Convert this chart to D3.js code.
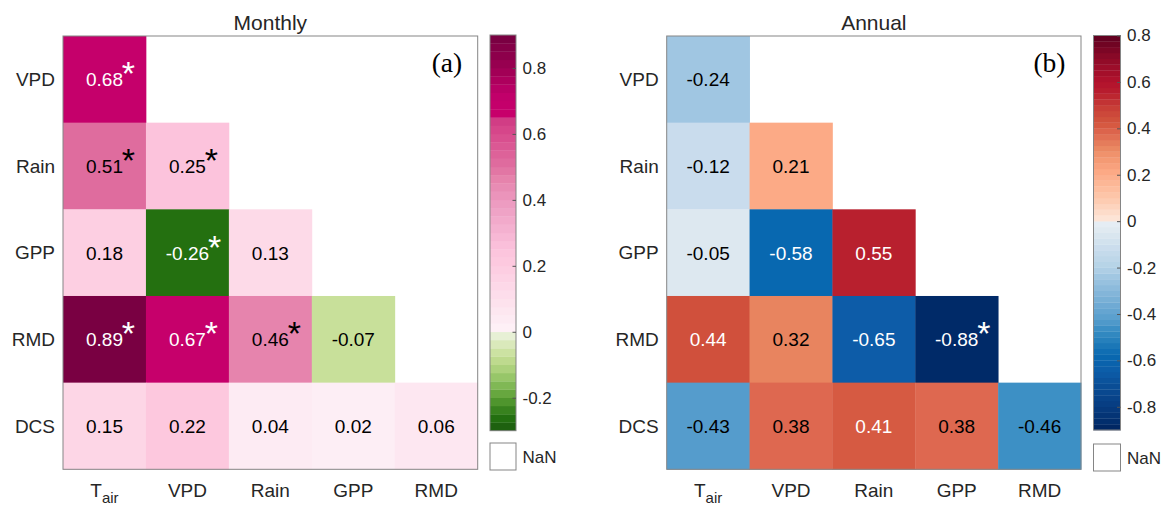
<!DOCTYPE html>
<html>
<head>
<meta charset="utf-8">
<script src="https://cdn.jsdelivr.net/npm/d3@7"></script>
<style>
  body { margin: 0; background: #fff; }
  svg { display: block; font-family: "Liberation Sans", Arial, sans-serif; }
</style>
</head>
<body>
<svg id="chart" width="1167" height="506"></svg>
<script>
// Variables on each axis (lower-triangular correlation matrices)
const rowNames = ["VPD", "Rain", "GPP", "RMD", "DCS"];
const colNames = ["Tair", "VPD", "Rain", "GPP", "RMD"];
const colMain  = ["T", "VPD", "Rain", "GPP", "RMD"];
const colSub   = ["air", "", "", "", ""];

// Monthly correlation coefficients (row i holds i+1 values)
const monthlyValues = [
  [0.68],
  [0.51, 0.25],
  [0.18, -0.26, 0.13],
  [0.89, 0.67, 0.46, -0.07],
  [0.15, 0.22, 0.04, 0.02, 0.06]
];
const monthlySignificant = [
  [1],
  [1, 1],
  [0, 1, 0],
  [1, 1, 1, 0],
  [0, 0, 0, 0, 0]
];

// Annual correlation coefficients
const annualValues = [
  [-0.24],
  [-0.12, 0.21],
  [-0.05, -0.58, 0.55],
  [0.44, 0.32, -0.65, -0.88],
  [-0.43, 0.38, 0.41, 0.38, -0.46]
];
const annualSignificant = [
  [0],
  [0, 0],
  [0, 0, 0],
  [0, 0, 0, 1],
  [0, 0, 0, 0, 0]
];

// Colour bar ticks and limits
const monthlyTicks  = [-0.2, 0, 0.2, 0.4, 0.6, 0.8];
const monthlyLimits = [-0.3, 0.9];
const annualTicks   = [-0.8, -0.6, -0.4, -0.2, 0, 0.2, 0.4, 0.6, 0.8];
const annualLimits  = [-0.9, 0.8];

// Colormaps: pink/green for monthly, red/blue for annual
const monthlyStops  = [-0.3, -0.26, -0.2, -0.15, -0.1, -0.07, -0.0001, 0, 0.02, 0.1, 0.2, 0.25, 0.3, 0.4, 0.46, 0.5, 0.6, 0.645, 0.655, 0.72, 0.8, 0.9];
const monthlyColors = ["#1b5a0e", "#247010", "#5a9f34", "#8cc060", "#b6d685", "#c8e09a", "#eef4e2", "#fff2f8", "#fdeef5", "#fde0ec", "#fdcbe0", "#fcc3dc", "#f5b4d2", "#ec98bf", "#e684ad", "#e070a0", "#d84a8c", "#d03a84", "#c8006b", "#c0006a", "#9c0052", "#750040"];

const annualStops  = [-0.9, -0.88, -0.8, -0.7, -0.65, -0.58, -0.5, -0.46, -0.43, -0.4, -0.3, -0.24, -0.2, -0.12, -0.05, -0.0001, 0, 0.1, 0.21, 0.3, 0.32, 0.38, 0.41, 0.44, 0.5, 0.55, 0.6, 0.7, 0.8];
const annualColors = ["#02235c", "#002a68", "#073c80", "#0a5098", "#0d5ca8", "#0868b0", "#2c84be", "#3d90c5", "#559ccc", "#60a2d0", "#88b8da", "#a0c6e2", "#b4d2e6", "#c9dced", "#dde8f0", "#e8eff5", "#fde8dc", "#fdc8ac", "#fcaa86", "#ee8e68", "#e8845f", "#de6850", "#d65a42", "#d0503c", "#c63a36", "#b8202e", "#b2122c", "#8e0a28", "#5e0020"];

const textDark = "#262626";

const panels = [
  {
    title: "Monthly", letter: "(a)",
    values: monthlyValues, sig: monthlySignificant,
    stops: monthlyStops, colors: monthlyColors,
    ticks: monthlyTicks, limits: monthlyLimits, bands: 48,
    whiteAbove: 0.6, whiteBelow: -0.2,
    box: { left: 63, right: 477.7, top: 36, bottom: 469.3 },
    cb: { left: 490, right: 516, top: 35, bottom: 430.7 },
    nan: { top: 443, bottom: 470 }
  },
  {
    title: "Annual", letter: "(b)",
    values: annualValues, sig: annualSignificant,
    stops: annualStops, colors: annualColors,
    ticks: annualTicks, limits: annualLimits, bands: 68,
    whiteAbove: 0.4, whiteBelow: -0.5,
    box: { left: 666.7, right: 1081, top: 36, bottom: 469.3 },
    cb: { left: 1093.5, right: 1120.5, top: 35.5, bottom: 430 },
    nan: { top: 444, bottom: 471 }
  }
];

const svg = d3.select("#chart");
svg.append("rect").attr("width", 1167).attr("height", 506).attr("fill", "#fff");

const fmt = v => d3.format(".2f")(v).replace("−", "-");

panels.forEach(p => {
  const g = svg.append("g");
  const x = d3.scaleBand().domain(colNames).range([p.box.left, p.box.right]);
  const y = d3.scaleBand().domain(rowNames).range([p.box.top, p.box.bottom]);
  const color = d3.scaleLinear().domain(p.stops).range(p.colors)
    .interpolate(d3.interpolateRgb).clamp(true);

  const cells = [];
  p.values.forEach((row, i) => row.forEach((v, j) => {
    cells.push({ row: rowNames[i], col: colNames[j], v, sig: p.sig[i][j] === 1 });
  }));

  // heatmap cells
  g.selectAll("rect.cell").data(cells).join("rect")
    .attr("class", "cell")
    .attr("x", d => x(d.col))
    .attr("y", d => y(d.row))
    .attr("width", x.bandwidth() + 0.4)
    .attr("height", y.bandwidth() + 0.4)
    .attr("fill", d => color(d.v));

  // value labels and significance marks
  const txtColor = d => (d.v > p.whiteAbove || d.v < p.whiteBelow) ? "#ffffff" : "#000000";
  cells.forEach(d => {
    const cx = x(d.col) + x.bandwidth() / 2;
    const cy = y(d.row) + y.bandwidth() / 2;
    const t = g.append("text")
      .attr("x", cx).attr("y", cy + 7)
      .attr("text-anchor", "middle")
      .attr("font-size", 19)
      .attr("fill", txtColor(d))
      .text(fmt(d.v));
    if (d.sig) {
      const w = t.node().getComputedTextLength();
      g.append("text")
        .attr("x", cx + w / 2 + 5.5)
        .attr("y", cy + 6)
        .attr("text-anchor", "middle")
        .attr("font-size", 34)
        .attr("fill", txtColor(d))
        .text("*");
    }
  });

  // frame
  g.append("rect")
    .attr("x", p.box.left).attr("y", p.box.top)
    .attr("width", p.box.right - p.box.left)
    .attr("height", p.box.bottom - p.box.top)
    .attr("fill", "none").attr("stroke", "#858585").attr("stroke-width", 1);

  // title
  g.append("text")
    .attr("x", (p.box.left + p.box.right) / 2).attr("y", 29.5)
    .attr("text-anchor", "middle").attr("font-size", 21)
    .attr("fill", textDark).text(p.title);

  // panel letter
  g.append("text")
    .attr("x", p.box.right - 15.5).attr("y", 71.5)
    .attr("text-anchor", "end")
    .attr("font-family", "'Liberation Serif', 'Times New Roman', serif")
    .attr("font-size", 27.5).attr("fill", "#000").text(p.letter);

  // row labels
  const yAxis = g.append("g")
    .attr("transform", `translate(${p.box.left},0)`)
    .call(d3.axisLeft(y).tickSize(0).tickPadding(8));
  yAxis.select(".domain").remove();
  yAxis.selectAll("text")
    .attr("font-size", 19).attr("font-family", null)
    .attr("fill", textDark).attr("dy", "0.36em");

  // column labels (with subscript)
  const xAxis = g.append("g")
    .attr("transform", `translate(0,${p.box.bottom})`)
    .call(d3.axisBottom(x).tickSize(0).tickPadding(14.2));
  xAxis.select(".domain").remove();
  xAxis.selectAll("text")
    .attr("font-size", 19).attr("font-family", null).attr("fill", textDark)
    .each(function (name) {
      const i = colNames.indexOf(name);
      const sel = d3.select(this).text(null);
      sel.append("tspan").text(colMain[i]);
      if (colSub[i]) {
        sel.append("tspan").attr("font-size", 15).attr("dy", 6).text(colSub[i]);
      }
    });

  // colour bar
  const cbScale = d3.scaleLinear().domain(p.limits).range([p.cb.bottom, p.cb.top]);
  const step = (p.limits[1] - p.limits[0]) / p.bands;
  const bands = d3.range(p.bands).map(k => p.limits[0] + k * step);
  g.selectAll("rect.band").data(bands).join("rect")
    .attr("class", "band")
    .attr("x", p.cb.left)
    .attr("y", d => cbScale(d + step))
    .attr("width", p.cb.right - p.cb.left)
    .attr("height", d => cbScale(d) - cbScale(d + step) + 0.3)
    .attr("fill", d => color(d + step / 2));
  g.append("rect")
    .attr("x", p.cb.left).attr("y", p.cb.top)
    .attr("width", p.cb.right - p.cb.left).attr("height", p.cb.bottom - p.cb.top)
    .attr("fill", "none").attr("stroke", "#858585").attr("stroke-width", 1);

  const cbAxis = g.append("g")
    .attr("transform", `translate(${p.cb.right},0)`)
    .call(d3.axisRight(cbScale).tickValues(p.ticks).tickSize(-3.5).tickPadding(6.5)
      .tickFormat(d => d === 0 ? "0" : d3.format(".1f")(d).replace("−", "-")));
  cbAxis.select(".domain").remove();
  cbAxis.selectAll("line").attr("stroke", "#555");
  cbAxis.selectAll("text")
    .attr("font-size", 17).attr("font-family", null).attr("fill", textDark);

  // NaN swatch
  g.append("rect")
    .attr("x", p.cb.left).attr("y", p.nan.top)
    .attr("width", p.cb.right - p.cb.left).attr("height", p.nan.bottom - p.nan.top)
    .attr("fill", "#fff").attr("stroke", "#858585").attr("stroke-width", 1);
  g.append("text")
    .attr("x", p.cb.right + 6.5).attr("y", (p.nan.top + p.nan.bottom) / 2 + 6)
    .attr("font-size", 17).attr("fill", textDark).text("NaN");
});
</script>
</body>
</html>
